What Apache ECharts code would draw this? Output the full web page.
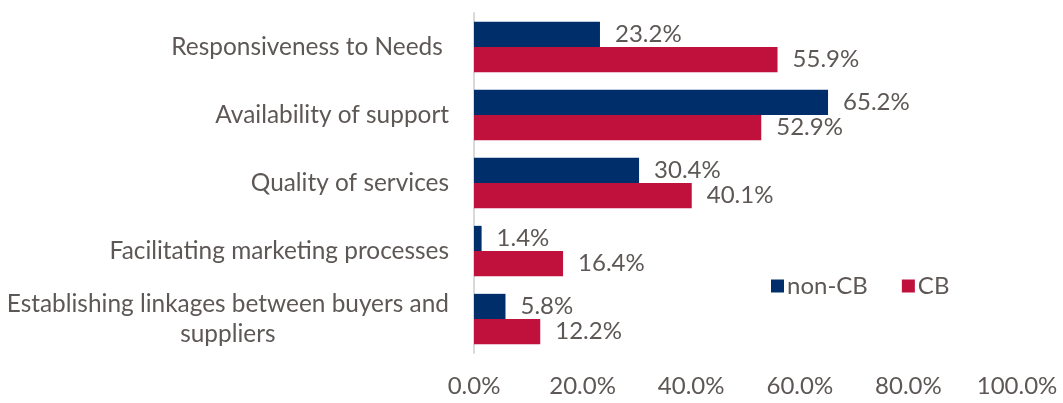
<!DOCTYPE html>
<html>
<head>
<meta charset="utf-8">
<script src="https://cdn.jsdelivr.net/npm/echarts@6/dist/echarts.min.js"></script>
<style>
  html, body { margin: 0; padding: 0; background: #fff; }
  #chart { width: 1063px; height: 403px; }
</style>
</head>
<body>
<div id="chart"></div>
<script>
// Survey categories, listed top to bottom
const categories = [
  'Responsiveness to Needs ',
  'Availability of support',
  'Quality of services',
  'Facilitating marketing processes',
  'Establishing linkages between buyers and\nsuppliers'
];
// Share of respondents (%)
const nonCB = [23.2, 65.2, 30.4, 1.4, 5.8];
const CB = [55.9, 52.9, 40.1, 16.4, 12.2];
const seriesNames = ['non-CB', 'CB'];

const textColor = '#5d5856';
const fontFamily = 'Lato, "Open Sans", sans-serif';
const catFontSize = 24.4;
const numFontSize = 24;

const chart = echarts.init(document.getElementById('chart'), null, { renderer: 'canvas' });

const valueLabel = {
  show: true,
  position: 'right',
  distance: 15,
  color: textColor,
  fontFamily: fontFamily,
  fontSize: numFontSize,
  formatter: p => p.value.toFixed(1) + '%'
};

chart.setOption({
  animation: false,
  backgroundColor: '#ffffff',
  grid: {
    left: 474, right: 46, top: 13, bottom: 50,
    containLabel: false,
    outerBoundsMode: 'none'
  },
  legend: {
    data: seriesNames,
    left: 766,
    top: 269,
    icon: 'rect',
    itemWidth: 13,
    itemHeight: 13,
    itemGap: 34,
    textStyle: { color: textColor, fontFamily: fontFamily, fontSize: numFontSize, padding: [0, 0, 0, -2] }
  },
  xAxis: {
    type: 'value',
    min: 0,
    max: 100,
    interval: 20,
    axisLine: { show: false },
    axisTick: { show: false },
    splitLine: { show: false },
    axisLabel: {
      color: textColor,
      fontFamily: fontFamily,
      fontSize: numFontSize,
      margin: 21,
      formatter: v => v.toFixed(1) + '%'
    }
  },
  yAxis: {
    type: 'category',
    data: categories,
    inverse: true,
    axisLine: { show: true, lineStyle: { color: '#d9d9d9', width: 2 } },
    axisTick: { show: false },
    axisLabel: {
      margin: 25,
      align: 'right',
      // each line is centred within the label block
      formatter: v => v.split('\n').map(s => '{c|' + s + '}').join('\n'),
      rich: {
        c: {
          align: 'center',
          color: textColor,
          fontFamily: fontFamily,
          fontSize: catFontSize,
          lineHeight: 30
        }
      }
    }
  },
  series: [
    {
      name: seriesNames[0],
      type: 'bar',
      data: nonCB,
      barGap: '0%',
      barCategoryGap: '26%',
      itemStyle: { color: '#002e6b' },
      label: valueLabel
    },
    {
      name: seriesNames[1],
      type: 'bar',
      data: CB,
      barGap: '0%',
      barCategoryGap: '26%',
      itemStyle: { color: '#c0113c' },
      label: valueLabel
    }
  ]
});
</script>
</body>
</html>
